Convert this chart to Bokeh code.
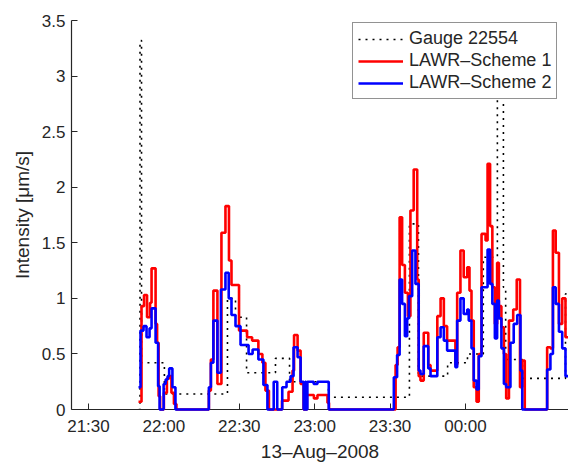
import pandas as pd
from bokeh.plotting import figure
from bokeh.models import (Range1d, FixedTicker, DatetimeTickFormatter,
                          CustomJSTickFormatter, Legend, LegendItem)
from bokeh.embed import file_html
from bokeh.resources import INLINE

# ---- data: time given as minutes after 21:30 on 13-Aug-2008, step values in µm/s ----
gauge_min = [20.0, 20.5, 21.1, 30.2, 55.3, 58.5, 62.9, 74.4, 80.0, 95.5,
             127.7, 131.3, 142.9, 150.8, 157.1, 162.7, 165.1, 166.0, 172.7, 189.8, 192.0]
gauge_val = [0.0, 3.32, 0.42, 0.14, 1.00, 0.83, 0.33, 0.46, 0.25, 0.11,
             1.67, 0.30, 0.42, 0.50, 1.37, 2.95, 1.10, 0.45, 0.28, 1.04, 1.04]

s1_min = [19.9, 21.1, 22.1, 23.3, 24.5, 25.1, 26.7, 27.3, 27.9, 28.5, 30.0, 31.2, 32.2, 33.0,
          34.0, 35.0, 47.9, 48.7, 49.7, 51.3, 52.9, 54.5, 55.9, 56.9, 59.9, 63.1, 65.1, 67.6,
          69.2, 70.4, 71.8, 77.0, 79.6, 81.2, 81.8, 83.2, 84.4, 85.6, 86.9, 89.7, 91.1, 95.1,
          95.7, 122.2, 123.0, 123.8, 124.8, 125.9, 127.1, 128.1, 129.4, 130.8, 131.4, 132.1,
          133.4, 135.2, 136.1, 138.8, 140.1, 141.4, 142.7, 146.0, 146.7, 148.0, 149.3, 150.7,
          151.6, 152.4, 153.3, 154.4, 155.3, 156.4, 158.0, 158.8, 159.8, 160.7, 161.7, 162.6,
          163.3, 164.3, 165.3, 166.2, 167.3, 169.0, 170.4, 171.7, 172.5, 173.6, 182.5, 183.8,
          184.8, 185.9, 187.2, 188.5, 189.8, 192.0]
s1_val = [0.07, 0.93, 1.03, 0.83, 0.96, 1.27, 0.77, 0.60, 0.12, 0.0, 0.15, 0.28, 0.30, 0.15,
          0.05, 0.0, 0.17, 0.45, 1.07, 0.23, 1.59, 1.83, 1.34, 1.12, 0.71, 0.65, 0.62, 0.50,
          0.42, 0.17, 0.0, 0.08, 0.16, 0.35, 0.67, 0.53, 0.23, 0.0, 0.13, 0.10, 0.13, 0.06,
          0.0, 0.40, 0.56, 1.73, 1.30, 1.05, 0.84, 1.79, 2.16, 1.17, 0.30, 0.26,
          0.69, 0.40, 0.35, 0.84, 1.00, 0.75, 0.62, 0.40, 1.05, 1.43, 1.19, 1.28,
          1.07, 0.80, 0.20, 0.07, 0.50, 1.58, 1.52, 2.21, 1.65, 1.10, 0.77, 1.32,
          0.93, 0.74, 0.50, 0.10, 0.80, 0.90, 1.17, 0.20, 0.44, 0.0, 0.56, 0.55,
          1.61, 1.41, 0.77, 1.00, 0.65, 0.65]

s2_min = [19.9, 20.7, 21.9, 23.1, 24.3, 25.1, 26.7, 27.7, 28.3, 29.9, 30.7, 31.5, 32.1, 33.4,
          34.6, 47.9, 48.7, 49.7, 51.3, 52.7, 54.5, 55.8, 56.9, 58.5, 60.5, 63.7, 65.3, 67.6,
          69.6, 71.2, 73.7, 75.1, 77.1, 78.8, 80.4, 81.6, 83.2, 84.4, 85.6, 86.2, 86.6, 87.1,
          89.6, 91.1, 95.6, 121.5, 122.8, 123.8, 124.8, 125.9, 126.8, 127.5, 128.8, 130.1,
          131.4, 132.1, 133.4, 135.2, 136.1, 138.8, 140.1, 141.4, 142.7, 146.0, 146.7, 148.0,
          149.3, 150.7, 151.3, 152.4, 153.3, 154.4, 155.3, 156.4, 158.8, 159.8, 160.7, 161.7,
          162.6, 163.3, 164.3, 165.3, 166.2, 167.9, 169.2, 170.6, 171.9, 172.6, 182.5, 183.8,
          184.8, 185.9, 187.2, 188.5, 189.8, 192.0]
s2_val = [0.20, 0.71, 0.75, 0.65, 0.73, 0.91, 0.60, 0.21, 0.0, 0.23, 0.27, 0.30, 0.37, 0.20,
          0.0, 0.20, 0.42, 0.80, 0.33, 1.08, 1.23, 1.00, 0.85, 0.75, 0.58, 0.50, 0.54, 0.45,
          0.22, 0.0, 0.25, 0.0, 0.20, 0.25, 0.30, 0.56, 0.47, 0.25, 0.0, 0.25, 0.0, 0.25,
          0.23, 0.25, 0.0, 0.29, 0.49, 1.17, 0.95, 0.66, 0.82, 1.02, 1.43, 1.13,
          0.35, 0.32, 0.57, 0.37, 0.30, 0.65, 0.74, 0.62, 0.53, 0.38, 0.80, 1.00,
          0.86, 0.90, 0.80, 0.55, 0.26, 0.18, 0.48, 1.10, 1.44, 1.13, 0.95, 0.64,
          0.98, 0.82, 0.55, 0.23, 0.20, 0.60, 0.77, 0.85, 0.35, 0.0, 0.36, 0.50,
          1.10, 0.95, 0.70, 0.55, 0.30, 0.30]

x_tick_min = [0, 30, 60, 90, 120, 150]          # 21:30 ... 00:00
y_ticks = [0, 0.5, 1, 1.5, 2, 2.5, 3, 3.5]
series_names = ["Gauge 22554", "LAWR\u2013Scheme 1", "LAWR\u2013Scheme 2"]

base = pd.Timestamp("2008-08-13 21:30")
epoch = pd.Timestamp("1970-01-01")


def to_time(mins):
    return [base + pd.Timedelta(minutes=m) for m in mins]


def to_ms(mins):
    return [(t - epoch).total_seconds() * 1000.0 for t in to_time(mins)]


FONT = "Liberation Sans"
TXT = "#262626"

p = figure(width=568, height=464, x_axis_type="datetime",
           output_backend="svg", toolbar_location=None,
           x_range=Range1d(base + pd.Timedelta(minutes=-6.76), base + pd.Timedelta(minutes=191.0)),
           y_range=Range1d(0, 3.5),
           min_border_left=71, min_border_right=0, min_border_top=20, min_border_bottom=55)
p.outline_line_color = None
p.xgrid.visible = False
p.ygrid.visible = False
p.background_fill_color = "white"
p.border_fill_color = "white"

g = p.step(to_time(gauge_min), gauge_val, mode="after", line_color="black",
           line_width=1.6, line_dash="2 5")
r1 = p.step(to_time(s1_min), s1_val, mode="after", line_color="#ff0000", line_width=2.6)
r2 = p.step(to_time(s2_min), s2_val, mode="after", line_color="#0000ff", line_width=2.6)
r1.level = "annotation"
r2.level = "annotation"

# axes
for ax in (p.xaxis[0], p.yaxis[0]):
    ax.axis_line_color = TXT
    ax.axis_line_width = 1.2
    ax.major_tick_line_color = TXT
    ax.major_tick_in = 6
    ax.major_tick_out = 0
    ax.minor_tick_line_color = None
    ax.major_label_text_font = FONT
    ax.major_label_text_font_size = "17px"
    ax.major_label_text_color = TXT
    ax.axis_label_text_font = FONT
    ax.axis_label_text_font_size = "19px"
    ax.axis_label_text_font_style = "normal"
    ax.axis_label_text_color = TXT

p.xaxis.ticker = FixedTicker(ticks=to_ms(x_tick_min))
p.xaxis.formatter = DatetimeTickFormatter(seconds="%H:%M", minsec="%H:%M", minutes="%H:%M",
                                          hourmin="%H:%M", hours="%H:%M", days="%H:%M")
p.xaxis.axis_label = "13\u2013Aug\u20132008"
p.xaxis.major_label_standoff = 7
p.xaxis.axis_label_standoff = 2

p.yaxis.ticker = FixedTicker(ticks=y_ticks)
p.yaxis.formatter = CustomJSTickFormatter(code="return String(tick);")
p.yaxis.axis_label = "Intensity [\u03bcm/s]"
p.yaxis.major_label_standoff = 6
p.yaxis.axis_label_standoff = 6

legend = Legend(items=[LegendItem(label=series_names[0], renderers=[g]),
                       LegendItem(label=series_names[1], renderers=[r1]),
                       LegendItem(label=series_names[2], renderers=[r2])],
                location=(281, 310))
legend.label_text_font = FONT
legend.label_text_font_size = "18px"
legend.label_text_color = TXT
legend.glyph_width = 45
legend.glyph_height = 20
legend.label_height = 20
legend.label_standoff = 6
legend.spacing = 1
legend.padding = 5
legend.margin = 0
legend.border_line_color = TXT
legend.border_line_width = 1.2
legend.background_fill_color = "white"
legend.background_fill_alpha = 1.0
p.add_layout(legend)

open("out.html", "w").write(file_html(p, INLINE))
